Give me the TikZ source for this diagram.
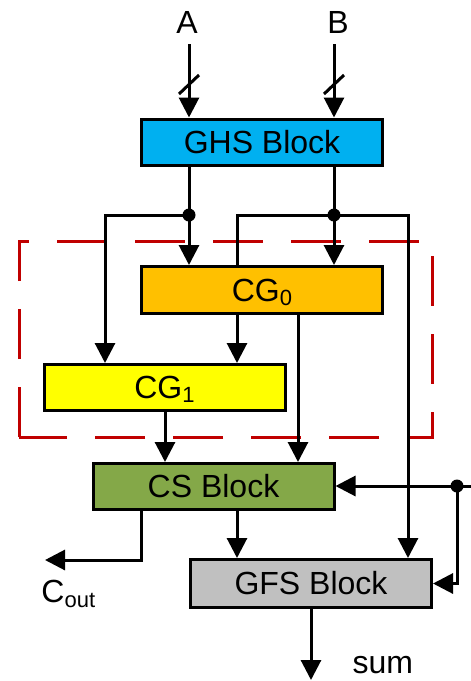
\documentclass[tikz,border=0pt]{standalone}
\usepackage{fontspec}
\setmainfont{Liberation Sans}
\usetikzlibrary{arrows.meta}
\definecolor{ghsc}{RGB}{0,176,240}
\definecolor{cgzc}{RGB}{255,192,0}
\definecolor{cgoc}{RGB}{255,255,0}
\definecolor{csc}{RGB}{132,168,72}
\definecolor{gfsc}{RGB}{192,192,192}
\definecolor{dred}{RGB}{192,0,0}
\begin{document}
\begin{tikzpicture}[x=1pt,y=-1pt,line width=3pt,
  blk/.style={draw=black,line width=3pt,minimum width=241pt,minimum height=46pt,inner sep=0pt,font=\fontsize{32}{38}\selectfont},
  arr/.style={-{Triangle[width=20pt,length=20pt]}},
  jdot/.style={circle,fill=black,inner sep=0pt,minimum size=13pt},
  lbl/.style={font=\fontsize{32}{38}\selectfont,inner sep=0pt},
  region/.style={draw=dred,line width=3pt,dash pattern=on 50pt off 28pt}]
\useasboundingbox (0,0) rectangle (471,681);
% dashed region
\draw[region] (19,437) -- (19,241) -- (432,241) -- (432,437) -- cycle;
% blocks
\node[blk,fill=ghsc] (ghs) at (262,142) {GHS Block};
\node[blk,fill=cgzc,minimum height=47pt] (cg0) at (262,290) {CG\raisebox{-4pt}[0pt][0pt]{\fontsize{22}{22}\selectfont 0}};
\node[blk,fill=cgoc] (cg1) at (164.5,387.5) {CG\raisebox{-4pt}[0pt][0pt]{\fontsize{22}{22}\selectfont 1}};
\node[blk,fill=csc] (cs) at (213.5,486.5) {CS Block};
\node[blk,fill=gfsc,minimum height=48pt] (gfs) at (311,583.5) {GFS Block};
% labels
\node[lbl,anchor=base] (la) at (187,33) {A};
\node[lbl,anchor=base] (lb) at (338,33) {B};
\node[lbl,anchor=base west] (lc) at (40,602) {C\raisebox{-5pt}[0pt][0pt]{\fontsize{22}{22}\selectfont out}};
\node[lbl,anchor=base west] (ls) at (351,673) {sum};
% helper coordinates
\coordinate (ain) at (189,44);
\coordinate (bin) at (334,44);
\coordinate (x105) at (105,0);
\coordinate (x237) at (237,0);
\coordinate (x298) at (298,0);
\coordinate (x408) at (408,0);
\coordinate (x165) at (165,0);
\coordinate (x141) at (141,0);
\coordinate (cout) at (45,560);
\coordinate (cin) at (471,486);
\coordinate (sumend) at (311,680);
% inputs
\draw[arr] (ain) -- (ghs.north -| ain);
\draw[arr] (bin) -- (ghs.north -| bin);
\draw (179,94) -- (199,75);
\draw (324,94) -- (344,75);
% junctions
\node[jdot] (da) at (189,215) {};
\node[jdot] (db) at (334,215) {};
\draw (ghs.south -| da) -- (da.center);
\draw (ghs.south -| db) -- (db.center);
\draw[arr] (da.center) -- (cg0.north -| da);
\draw[arr] (db.center) -- (cg0.north -| db);
\draw[arr] (da.center) -| (cg1.north -| x105);
\draw[arr] (cg0.north -| x237) |- (db.center) -| (gfs.north -| x408);
% CG outputs
\draw[arr] (cg0.south -| x237) -- (cg1.north -| x237);
\draw[arr] (cg0.south -| x298) -- (cs.north -| x298);
\draw[arr] (cg1.south -| x165) -- (cs.north -| x165);
% CS outputs
\draw[arr] (cs.south -| x141) |- (cout);
\draw[arr] (cs.south -| x237) -- (gfs.north -| x237);
% carry in
\node[jdot] (dc) at (457,486) {};
\draw[arr] (cin) -- (cin -| cs.east);
\draw[arr] (dc.center) |- (gfs.east);
% sum
\draw[arr] (gfs.south) -- (sumend);
\end{tikzpicture}
\end{document}
